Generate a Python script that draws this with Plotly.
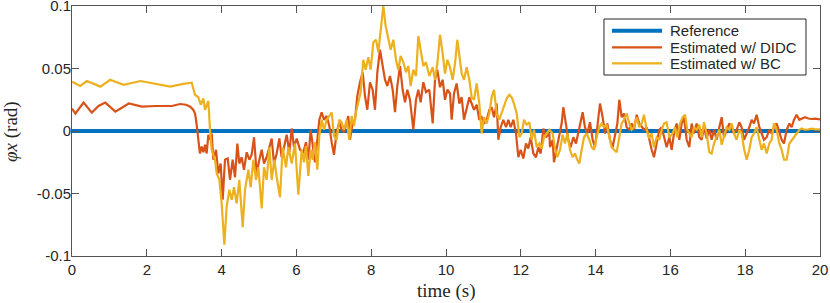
import plotly.graph_objects as go

# ---------------- data ----------------
ref_t = [0.0, 20.0]
ref_v = [0.0, 0.0]

didc_t = [0.00, 0.09, 0.31, 0.53, 0.71, 0.89, 1.16, 1.52, 1.87, 2.23, 2.67, 2.89, 3.05, 3.16, 3.24, 3.29, 3.33, 3.38, 3.42,
          3.467, 3.512, 3.556, 3.601, 3.646, 3.690, 3.735, 3.779, 3.851, 3.913, 3.975, 4.029, 4.091, 4.163, 4.225, 4.296,
          4.359, 4.421, 4.474, 4.537, 4.599, 4.671, 4.742, 4.804, 4.867, 4.938, 5.009, 5.072, 5.134, 5.205, 5.277, 5.339,
          5.401, 5.473, 5.544, 5.606, 5.669, 5.740, 5.811, 5.874, 5.936, 6.008, 6.097,
          6.185, 6.256, 6.319, 6.381, 6.435, 6.497, 6.559, 6.613, 6.675, 6.738, 6.809, 6.880, 6.943, 7.005, 7.076, 7.148,
          7.210, 7.273, 7.344, 7.388, 7.433, 7.504, 7.567, 7.629, 7.700, 7.772, 7.834, 7.896, 7.968, 8.039, 8.101, 8.164,
          8.235, 8.306, 8.369, 8.431, 8.503, 8.574, 8.636, 8.699, 8.770, 8.841, 8.904, 8.966, 9.037, 9.126, 9.198, 9.260,
          9.322, 9.394, 9.465, 9.554,
          9.644, 9.706, 9.768, 9.840, 9.911, 9.973, 10.036, 10.107, 10.152, 10.214, 10.285, 10.357, 10.419, 10.481,
          10.553, 10.624, 10.686, 10.749, 10.820, 10.891, 10.954, 11.016, 11.088, 11.159, 11.221, 11.284, 11.355, 11.400,
          11.462, 11.533, 11.605, 11.667, 11.729, 11.801, 11.872, 11.934, 11.997, 12.068, 12.139, 12.202, 12.264, 12.335,
          12.407, 12.469, 12.532, 12.603, 12.674, 12.763,
          12.780, 12.852, 12.887, 12.959, 13.030, 13.092, 13.137, 13.208, 13.271, 13.333, 13.404, 13.476, 13.538, 13.583,
          13.654, 13.716, 13.779, 13.850, 13.921, 13.984, 14.046, 14.117, 14.189, 14.251, 14.313, 14.385, 14.456, 14.518,
          14.581, 14.634, 14.697, 14.759, 14.830, 14.902, 14.964, 15.026, 15.098, 15.169, 15.231, 15.294, 15.365, 15.436,
          15.499, 15.561, 15.633, 15.704, 15.766, 15.829, 15.900, 15.971,
          16.034, 16.096, 16.167, 16.239, 16.301, 16.363, 16.435, 16.506, 16.568, 16.631, 16.702, 16.773, 16.836, 16.898,
          16.969, 17.041, 17.103, 17.166, 17.237, 17.308, 17.371, 17.433, 17.504, 17.575, 17.638, 17.700, 17.772, 17.843,
          17.905, 17.968, 18.039, 18.110, 18.173, 18.235, 18.306, 18.378, 18.440, 18.502, 18.574, 18.645, 18.707, 18.770,
          18.841, 18.912, 18.975, 19.037, 19.109, 19.180, 19.242, 19.305, 19.376, 19.447, 19.510, 19.599, 19.688, 19.777,
          19.866, 19.973, 20.0]
didc_v = [0.018, 0.014, 0.0227, 0.0147, 0.020, 0.0227, 0.0155, 0.022, 0.0195, 0.020, 0.020, 0.0216, 0.021, 0.0195, 0.017, 0.014, 0.006, -0.010, -0.018,
          -0.0125, -0.017, -0.011, -0.018, -0.003, -0.007, -0.002, -0.023, -0.015, -0.034, -0.026, -0.055, -0.023, -0.022, -0.039, -0.023,
          -0.037, -0.010, -0.026, -0.021, -0.031, -0.017, -0.023, -0.019, -0.005, -0.034, -0.023, -0.015, -0.026, -0.021, -0.013, -0.006,
          -0.026, -0.018, -0.006, -0.021, -0.013, -0.003, -0.017, 0.002, -0.013, -0.006, -0.015,
          -0.017, -0.009, -0.023, 0.001, -0.012, -0.025, -0.007, 0.009, 0.015, 0.009, 0.012, 0.004, -0.009, -0.019, -0.001, 0.007,
          0.001, -0.001, 0.007, 0.012, -0.007, 0.007, 0.009, 0.028, 0.039, 0.047, 0.028, 0.017, 0.039, 0.033, 0.017, 0.047,
          0.065, 0.052, 0.041, 0.036, 0.044, 0.033, 0.015, 0.036, 0.052, 0.033, 0.023, 0.033, 0.025, 0.001, 0.025, 0.033,
          0.023, 0.039, 0.031, 0.033,
          0.006, 0.041, 0.049, 0.035, 0.041, 0.025, 0.033, 0.030, 0.009, 0.030, 0.038, 0.022, 0.027, 0.009,
          0.017, 0.027, 0.022, 0.017, 0.021, 0.009, 0.011, 0.006, 0.009, 0.017, 0.019, 0.011, 0.022, -0.007,
          0.003, 0.009, 0.003, 0.009, 0.003, 0.009, -0.002, -0.021, -0.015, -0.022, -0.010, -0.014, -0.005, -0.018,
          -0.021, -0.013, -0.018, 0.002, -0.005, -0.002,
          -0.013, -0.007, -0.025, -0.013, -0.002, 0.006, 0.019, 0.006, -0.007, -0.013, -0.005, -0.010, -0.001, 0.006,
          0.015, 0.003, -0.002, 0.007, -0.007, -0.013, 0.003, 0.022, 0.011, -0.002, 0.006, -0.007, -0.013, -0.002,
          0.006, 0.025, 0.011, 0.014, 0.003, 0.001, 0.006, 0.001, 0.013, 0.006, 0.003, 0.001, 0.003, -0.007,
          -0.015, -0.021, -0.010, 0.001, 0.003, -0.005, -0.013, -0.005,
          -0.015, -0.002, 0.006, -0.007, 0.006, 0.011, -0.007, -0.013, 0.006, -0.002, 0.006, -0.005, -0.007, 0.003,
          -0.006, 0.001, -0.007, 0.001, -0.007, 0.003, 0.011, -0.005, 0.001, 0.006, 0.003, -0.002, 0.001, 0.007,
          0.003, -0.007, -0.002, 0.003, 0.009, 0.006, 0.013, 0.003, -0.002, -0.007, -0.005, 0.001, -0.002, 0.003,
          0.006, -0.002, -0.007, -0.010, 0.001, 0.006, 0.003, 0.009, 0.013, 0.009, 0.010, 0.011, 0.010, 0.0096,
          0.0099, 0.0093, 0.0093]

bc_t = [0.00, 0.22, 0.40, 0.76, 1.02, 1.38, 1.83, 2.23, 2.63, 2.94, 3.20,
        3.289, 3.378, 3.441, 3.512, 3.556, 3.646, 3.690, 3.735, 3.824, 3.868, 3.940, 4.002, 4.073, 4.136, 4.207, 4.270,
        4.332, 4.403, 4.474, 4.564, 4.626, 4.715, 4.778, 4.849, 4.920, 4.983, 5.072, 5.134, 5.205, 5.277, 5.339, 5.410,
        5.473, 5.562, 5.633, 5.722, 5.785, 5.874, 5.963, 6.052,
        6.141, 6.203, 6.256, 6.319, 6.381, 6.435, 6.497, 6.559, 6.613, 6.675, 6.738, 6.809, 6.880, 6.943, 7.005, 7.076,
        7.148, 7.210, 7.273, 7.344, 7.415, 7.478, 7.540, 7.593, 7.656, 7.718, 7.789, 7.852, 7.923, 7.986, 8.057, 8.128,
        8.191, 8.253, 8.324, 8.387, 8.458, 8.520, 8.592, 8.663, 8.725, 8.788, 8.859, 8.930, 8.993, 9.055, 9.126, 9.198,
        9.260, 9.322, 9.394, 9.465, 9.554,
        9.644, 9.706, 9.768, 9.840, 9.911, 9.973, 10.036, 10.107, 10.178, 10.241, 10.303, 10.357, 10.419, 10.481,
        10.553, 10.624, 10.686, 10.749, 10.820, 10.891, 10.954, 11.016, 11.088, 11.159, 11.221, 11.284, 11.355, 11.426,
        11.489, 11.551, 11.622, 11.694, 11.756, 11.818, 11.890, 11.961, 12.024, 12.086, 12.157, 12.228, 12.291, 12.353,
        12.425, 12.496, 12.558, 12.621, 12.692, 12.763,
        12.852, 12.914, 12.976, 13.048, 13.119, 13.181, 13.244, 13.315, 13.386, 13.449, 13.511, 13.565, 13.627, 13.690,
        13.761, 13.832, 13.895, 13.957, 14.028, 14.100, 14.162, 14.224, 14.296, 14.367, 14.429, 14.492, 14.563, 14.634,
        14.697, 14.759, 14.830, 14.902, 14.964, 15.026, 15.098, 15.169, 15.231, 15.294, 15.365, 15.436, 15.499, 15.561,
        15.633, 15.704, 15.766, 15.829, 15.900, 15.971,
        16.060, 16.123, 16.185, 16.256, 16.328, 16.390, 16.452, 16.506, 16.568, 16.631, 16.702, 16.773, 16.836, 16.898,
        16.969, 17.041, 17.103, 17.166, 17.237, 17.308, 17.371, 17.433, 17.504, 17.575, 17.638, 17.700, 17.772, 17.843,
        17.905, 17.968, 18.039, 18.110, 18.173, 18.235, 18.306, 18.378, 18.440, 18.502, 18.574, 18.645, 18.707, 18.770,
        18.841, 18.912, 18.975, 19.037, 19.109, 19.180, 19.242, 19.305, 19.376, 19.447, 19.510, 19.599, 19.688, 19.777,
        19.866, 19.973, 20.0]
bc_v = [0.0395, 0.036, 0.040, 0.0355, 0.041, 0.037, 0.040, 0.038, 0.0355, 0.0375, 0.0387,
        0.029, 0.027, 0.021, 0.026, 0.017, 0.024, 0.001, -0.015, -0.023, -0.034, -0.039, -0.058, -0.091, -0.060, -0.047, -0.055,
        -0.045, -0.058, -0.039, -0.077, -0.047, -0.031, -0.045, -0.023, -0.039, -0.029, -0.062, -0.029, -0.039, -0.013, -0.039, -0.023,
        -0.037, -0.053, -0.013, -0.029, -0.013, -0.026, -0.010, -0.051,
        -0.015, -0.025, -0.012, -0.036, -0.015, -0.023, -0.009, -0.031, -0.004, 0.009, 0.001, 0.009, 0.012, 0.015, -0.004, -0.007,
        0.009, 0.007, 0.001, 0.009, -0.007, 0.012, 0.004, 0.015, 0.023, 0.031, 0.057, 0.049, 0.059, 0.049, 0.071, 0.073,
        0.063, 0.079, 0.100, 0.084, 0.073, 0.065, 0.073, 0.057, 0.049, 0.060, 0.055, 0.047, 0.052, 0.036, 0.049, 0.044,
        0.076, 0.063, 0.052, 0.055, 0.044,
        0.051, 0.041, 0.054, 0.077, 0.062, 0.046, 0.057, 0.051, 0.041, 0.054, 0.073, 0.059, 0.046, 0.041,
        0.051, 0.041, 0.027, 0.025, 0.038, 0.022, -0.002, 0.011, 0.006, 0.014, 0.027, 0.033, 0.014, 0.009,
        0.014, 0.019, 0.026, 0.029, 0.027, 0.022, 0.014, -0.005, -0.002, 0.009, 0.005, 0.007, -0.007, 0.001,
        -0.013, -0.010, -0.014, -0.005, -0.002, 0.001,
        -0.002, -0.014, -0.021, -0.015, -0.003, -0.010, -0.002, -0.015, -0.021, -0.018, -0.023, -0.026, -0.015, -0.005,
        -0.002, -0.007, -0.013, -0.015, -0.005, 0.003, 0.006, 0.003, 0.005, -0.005, -0.013, -0.015, -0.017, -0.005,
        0.006, 0.009, 0.014, 0.006, 0.001, 0.003, 0.011, 0.003, 0.006, 0.013, 0.001, -0.006, -0.002, -0.013,
        -0.005, -0.007, 0.001, 0.006, 0.007, -0.005,
        -0.002, 0.003, -0.005, 0.006, 0.011, 0.013, 0.001, -0.002, -0.005, 0.003, 0.001, 0.005, -0.005, 0.007,
        -0.002, -0.017, -0.018, -0.010, -0.005, 0.001, -0.011, -0.005, 0.003, 0.001, 0.006, -0.002, -0.007, 0.001,
        -0.002, -0.014, -0.023, -0.015, -0.005, -0.002, 0.003, -0.007, -0.015, -0.010, -0.018, -0.010, -0.007, 0.006,
        0.001, -0.010, -0.015, -0.023, -0.023, -0.010, -0.007, -0.005, -0.002, 0.001, 0.002, 0.001, 0.0013, 0.0019,
        0.0013, 0.0013, 0.0013]

x_ticks = [0, 2, 4, 6, 8, 10, 12, 14, 16, 18, 20]
y_ticks = [-0.1, -0.05, 0, 0.05, 0.1]
y_tick_labels = ["-0.1", "-0.05", "0", "0.05", "0.1"]

series_names = ["Reference", "Estimated w/ DIDC", "Estimated w/ BC"]
x_title = "time (s)"
y_title = "<i>φx</i> (rad)"

# ---------------- figure ----------------
BLUE = "#0072BD"
RED = "#D95319"
YELLOW = "#EDB120"
AXC = "#555555"
TXT = "#262626"
SANS = "Liberation Sans, Arial, sans-serif"
SERIF = "Liberation Serif, Times New Roman, serif"
colors = [BLUE, RED, YELLOW]
widths = [4, 2.2, 2.2]

fig = go.Figure()
for (tx, vy), nm, c, w in zip([(ref_t, ref_v), (didc_t, didc_v), (bc_t, bc_v)], series_names, colors, widths):
    fig.add_trace(go.Scatter(x=tx, y=vy, mode="lines", name=nm, showlegend=False,
                             line=dict(color=c, width=w)))

axis_common = dict(showline=True, linecolor=AXC, linewidth=1, mirror="ticks",
                   ticks="inside", ticklen=7, tickcolor=AXC, tickwidth=1,
                   showgrid=False, zeroline=False, automargin=False,
                   ticklabeloverflow="allow",
                   tickfont=dict(family=SANS, size=15, color=TXT))

# legend box drawn in paper coordinates (MATLAB-style compact legend)
shapes = [dict(type="rect", xref="paper", yref="paper", x0=0.7112, x1=0.9813, y0=0.724, y1=0.948,
               line=dict(color=TXT, width=1), fillcolor="white", layer="above")]
annotations = []
row_y = [0.9012, 0.8348, 0.7708]
for nm, c, w, yy in zip(series_names, colors, widths, row_y):
    shapes.append(dict(type="line", xref="paper", yref="paper", x0=0.7219, x1=0.7888, y0=yy, y1=yy,
                       line=dict(color=c, width=w), layer="above"))
    annotations.append(dict(xref="paper", yref="paper", x=0.7968, y=yy, text=nm, showarrow=False,
                            xanchor="left", yanchor="middle",
                            font=dict(family=SANS, size=15, color=TXT)))

# axis titles
annotations.append(dict(xref="paper", yref="paper", x=0.5, y=-0.14, text=x_title, showarrow=False,
                        xanchor="center", yanchor="middle",
                        font=dict(family=SERIF, size=19, color=TXT)))
annotations.append(dict(xref="paper", yref="paper", x=-0.0816, y=0.5, text=y_title, showarrow=False,
                        xanchor="center", yanchor="middle", textangle=-90,
                        font=dict(family=SERIF, size=19, color=TXT)))

fig.update_layout(
    width=830, height=303,
    margin=dict(l=72, r=10, t=6, b=47),
    paper_bgcolor="white", plot_bgcolor="white",
    showlegend=False,
    shapes=shapes, annotations=annotations,
    xaxis=dict(range=[0, 20], tickvals=x_ticks, **axis_common),
    yaxis=dict(range=[-0.1, 0.1], tickvals=y_ticks, ticktext=y_tick_labels, **axis_common,
               ticklabelstandoff=-3),
)

fig.write_html("out.html", config={"displayModeBar": False},
               post_script="document.body.style.margin='0';document.body.style.padding='0';")
